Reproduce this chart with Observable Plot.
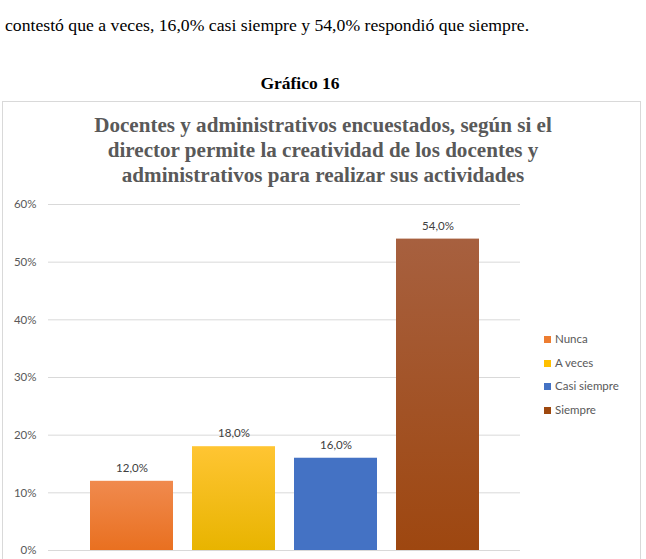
<!DOCTYPE html>
<html><head><meta charset="utf-8">
<script src="https://cdn.jsdelivr.net/npm/d3@7"></script>
<script src="https://cdn.jsdelivr.net/npm/@observablehq/plot@0.6"></script>
<style>
body{margin:0;width:646px;height:559px;overflow:hidden;background:#fff;position:relative;}
.serif{font-family:"Liberation Serif","Times New Roman",Times,"DejaVu Serif",serif;}
#intro{position:absolute;left:5px;top:15px;font-size:17.7px;color:#000;white-space:nowrap;}
#fig{position:absolute;left:0;width:600px;top:73px;text-align:center;font-weight:bold;font-size:17.5px;}
#box{position:absolute;left:2px;top:101px;width:637px;height:480px;border:1px solid #d9d9d9;}
#title{position:absolute;left:0;width:646px;top:113px;text-align:center;font-weight:bold;font-size:21.1px;line-height:25px;color:#595959;}
#chart{position:absolute;left:0;top:190px;}
#legend{position:absolute;left:544px;top:330px;font-family:Lato,"Open Sans",sans-serif;font-size:11.5px;color:#595959;}
#legend div{height:23.5px;line-height:18px;white-space:nowrap;}
#legend span.sw{display:inline-block;width:7px;height:7px;margin-right:4px;vertical-align:0px;}
</style></head>
<body>
<div id="intro" class="serif">contestó que a veces, 16,0% casi siempre y 54,0% respondió que siempre.</div>
<div id="fig" class="serif">Gráfico 16</div>
<div id="box"></div>
<div id="title" class="serif">Docentes y administrativos encuestados, según si el<br>director permite la creatividad de los docentes y<br>administrativos para realizar sus actividades</div>
<div id="chart"></div>
<div id="legend"></div>
<script>
const categories = ["Nunca", "A veces", "Casi siempre", "Siempre"];
const values = [12.0, 18.0, 16.0, 54.0];
const yTicks = [0, 10, 20, 30, 40, 50, 60];
const colors = ["#ED7D31", "#FFC000", "#4472C4", "#9E480E"];
const gradTop = ["#F08A4E", "#FFC533", "#4472C4", "#A7603F"];
const gradBottom = ["#E97020", "#E8B400", "#4472C4", "#9E4710"];

const data = categories.map((c, i) => ({cat: c, value: values[i]}));
const fmt = v => v.toFixed(1).replace(".", ",") + "%";

const chart = Plot.plot({
  width: 646, height: 380,
  marginLeft: 48, marginRight: 126, marginTop: 14, marginBottom: 20,
  style: {fontFamily: "Lato, 'Open Sans', sans-serif", fontSize: "11.5px", color: "#595959", background: "transparent"},
  x: {domain: categories, paddingInner: 0.19, paddingOuter: 0.39, axis: null},
  y: {domain: [0, 60], ticks: yTicks, tickFormat: d => d + "%", tickSize: 0, tickPadding: 12, label: null},
  color: {domain: categories, range: categories.map((c, i) => `url(#grad${i})`)},
  marks: [
    Plot.gridY(yTicks, {stroke: "#d9d9d9", strokeOpacity: 1}),
    Plot.barY(data, {x: "cat", y: "value", fill: "cat"}),
    Plot.text(data, {x: "cat", y: "value", text: d => fmt(d.value), dy: -13, fill: "#404040", fontSize: 11.5})
  ]
});
const svg = d3.select(chart);
const defs = svg.insert("defs", ":first-child");
categories.forEach((c, i) => {
  const g = defs.append("linearGradient").attr("id", "grad" + i).attr("x1", 0).attr("y1", 0).attr("x2", 0).attr("y2", 1);
  g.append("stop").attr("offset", "0%").attr("stop-color", gradTop[i]);
  g.append("stop").attr("offset", "100%").attr("stop-color", gradBottom[i]);
});
document.getElementById("chart").appendChild(chart);

const leg = document.getElementById("legend");
categories.forEach((c, i) => {
  const d = document.createElement("div");
  d.innerHTML = `<span class="sw" style="background:${colors[i]}"></span>${c}`;
  leg.appendChild(d);
});
</script>
</body></html>
